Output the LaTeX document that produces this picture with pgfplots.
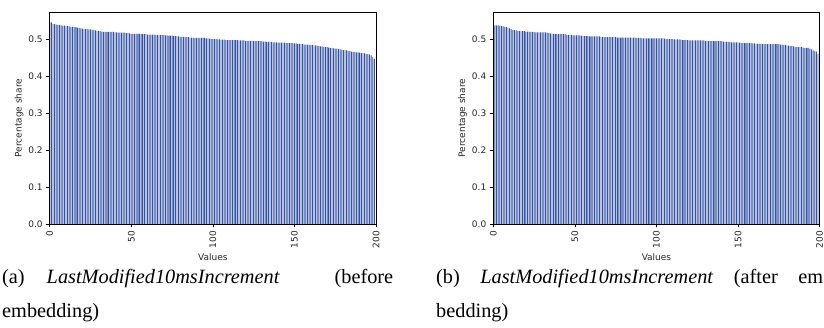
\documentclass[border=0pt]{standalone}
\usepackage{fontspec}
\setmainfont{Liberation Serif}
\newfontfamily\dejavu{DejaVu Sans}
\usepackage{pgfplots}
\pgfplotsset{compat=1.18}
\usepackage{pgfplotstable}
\definecolor{barblue}{RGB}{52,82,164}

\pgfplotstableread[row sep=\\]{
y\\
0.546\\0.545\\0.541\\0.540\\0.539\\0.538\\0.538\\0.537\\0.536\\0.536\\
0.535\\0.535\\0.534\\0.533\\0.533\\0.532\\0.532\\0.531\\0.530\\0.529\\
0.528\\0.527\\0.527\\0.527\\0.526\\0.526\\0.525\\0.524\\0.523\\0.522\\
0.522\\0.521\\0.520\\0.519\\0.519\\0.519\\0.519\\0.519\\0.519\\0.519\\
0.518\\0.518\\0.517\\0.517\\0.517\\0.517\\0.517\\0.516\\0.516\\0.515\\
0.514\\0.514\\0.514\\0.514\\0.514\\0.514\\0.513\\0.513\\0.513\\0.513\\
0.512\\0.512\\0.512\\0.512\\0.512\\0.511\\0.511\\0.511\\0.511\\0.511\\
0.511\\0.510\\0.510\\0.509\\0.509\\0.509\\0.508\\0.508\\0.508\\0.507\\
0.506\\0.506\\0.506\\0.506\\0.506\\0.505\\0.504\\0.504\\0.503\\0.503\\
0.503\\0.503\\0.503\\0.503\\0.503\\0.503\\0.502\\0.502\\0.501\\0.500\\
0.500\\0.500\\0.500\\0.499\\0.499\\0.498\\0.498\\0.498\\0.497\\0.497\\
0.497\\0.497\\0.497\\0.497\\0.497\\0.497\\0.496\\0.496\\0.496\\0.496\\
0.495\\0.495\\0.495\\0.495\\0.495\\0.495\\0.494\\0.494\\0.494\\0.494\\
0.494\\0.493\\0.493\\0.492\\0.492\\0.492\\0.492\\0.491\\0.491\\0.491\\
0.490\\0.490\\0.490\\0.490\\0.490\\0.489\\0.489\\0.489\\0.489\\0.489\\
0.488\\0.488\\0.487\\0.487\\0.486\\0.486\\0.485\\0.485\\0.485\\0.484\\
0.484\\0.484\\0.483\\0.483\\0.482\\0.481\\0.480\\0.480\\0.479\\0.478\\
0.478\\0.477\\0.476\\0.476\\0.475\\0.474\\0.474\\0.473\\0.472\\0.471\\
0.470\\0.470\\0.469\\0.468\\0.467\\0.466\\0.465\\0.465\\0.464\\0.464\\
0.463\\0.462\\0.462\\0.461\\0.460\\0.459\\0.458\\0.456\\0.451\\0.446\\
}\dataA

\pgfplotstableread[row sep=\\]{
y\\
0.544\\0.537\\0.537\\0.537\\0.536\\0.535\\0.534\\0.533\\0.532\\0.531\\
0.529\\0.527\\0.525\\0.524\\0.523\\0.522\\0.521\\0.521\\0.521\\0.521\\
0.520\\0.520\\0.520\\0.519\\0.519\\0.519\\0.518\\0.518\\0.518\\0.518\\
0.518\\0.518\\0.518\\0.517\\0.516\\0.515\\0.514\\0.514\\0.513\\0.513\\
0.513\\0.513\\0.513\\0.513\\0.513\\0.512\\0.511\\0.511\\0.511\\0.510\\
0.510\\0.510\\0.510\\0.510\\0.509\\0.508\\0.508\\0.508\\0.508\\0.507\\
0.507\\0.507\\0.507\\0.507\\0.507\\0.507\\0.506\\0.505\\0.505\\0.505\\
0.505\\0.505\\0.505\\0.505\\0.505\\0.505\\0.504\\0.504\\0.504\\0.504\\
0.504\\0.504\\0.504\\0.504\\0.504\\0.504\\0.504\\0.504\\0.503\\0.503\\
0.503\\0.502\\0.502\\0.502\\0.502\\0.502\\0.502\\0.502\\0.502\\0.502\\
0.502\\0.502\\0.502\\0.502\\0.502\\0.501\\0.500\\0.500\\0.500\\0.500\\
0.500\\0.499\\0.499\\0.499\\0.499\\0.498\\0.497\\0.497\\0.497\\0.497\\
0.496\\0.496\\0.496\\0.496\\0.496\\0.496\\0.496\\0.496\\0.496\\0.496\\
0.495\\0.495\\0.494\\0.494\\0.494\\0.494\\0.494\\0.494\\0.494\\0.494\\
0.494\\0.493\\0.492\\0.492\\0.492\\0.492\\0.491\\0.491\\0.491\\0.491\\
0.491\\0.490\\0.489\\0.489\\0.489\\0.489\\0.489\\0.489\\0.489\\0.488\\
0.488\\0.487\\0.487\\0.487\\0.487\\0.487\\0.487\\0.486\\0.486\\0.486\\
0.486\\0.486\\0.486\\0.486\\0.486\\0.486\\0.485\\0.485\\0.484\\0.484\\
0.483\\0.482\\0.481\\0.481\\0.480\\0.479\\0.478\\0.478\\0.478\\0.478\\
0.477\\0.476\\0.476\\0.476\\0.474\\0.472\\0.469\\0.467\\0.466\\0.460\\
}\dataB

\pgfplotsset{
  sharestyle/.style={
    scale only axis, width=326.3pt, height=212pt,
    xmin=0, xmax=200, ymin=0, ymax=0.573,
    xtick={0,50,100,150,200},
    ytick={0,0.1,0.2,0.3,0.4,0.5},
    minor tick num=0,
    xtick pos=lower, ytick pos=left,
    tick align=outside, major tick length=3.5pt,
    tick style={black, line width=0.6pt},
    axis line style={line width=0.7pt},
    axis on top,
    /pgf/number format/assume math mode=true,
    tick label style={font=\dejavu\fontsize{9}{10}\selectfont, text=black!85},
    label style={font=\dejavu\fontsize{9}{10}\selectfont, text=black!85},
    yticklabel style={/pgf/number format/fixed, /pgf/number format/precision=1, /pgf/number format/fixed zerofill},
    xticklabel style={rotate=90, anchor=east},
    xlabel={Values}, ylabel={Percentage share},
    xlabel style={at={(axis description cs:0.5,-0.156)}, anchor=center},
    ylabel style={at={(axis description cs:-0.094,0.5)}, anchor=center},
  }
}

\begin{document}
\begin{tikzpicture}[x=1pt,y=1pt]
\useasboundingbox (0,0) rectangle (824,328);
\begin{axis}[sharestyle, at={(49.7pt,104pt)}, anchor=south west]
\addplot[ybar, bar width=0.55, bar shift=0pt, fill=barblue, draw=none] table[x expr=\coordindex, y=y] {\dataA};
\end{axis}
\begin{axis}[sharestyle, at={(493.3pt,104pt)}, anchor=south west]
\addplot[ybar, bar width=0.55, bar shift=0pt, fill=barblue, draw=none] table[x expr=\coordindex, y=y] {\dataB};
\end{axis}
\begin{scope}[every node/.style={inner sep=0pt, font=\fontsize{20.3}{24}\selectfont}]
\node[anchor=base west] at (2,44) {\hbox to 391pt{(a)\hspace{22pt}\textit{LastModified10msIncrement}\hfill(before}};
\node[anchor=base west] at (2,10) {embedding)};
\node[anchor=base west] at (436,44) {\hbox to 387pt{(b) \textit{LastModified10msIncrement} (after em}};
\node[anchor=base west] at (436,10) {bedding)};
\end{scope}
\end{tikzpicture}
\end{document}
